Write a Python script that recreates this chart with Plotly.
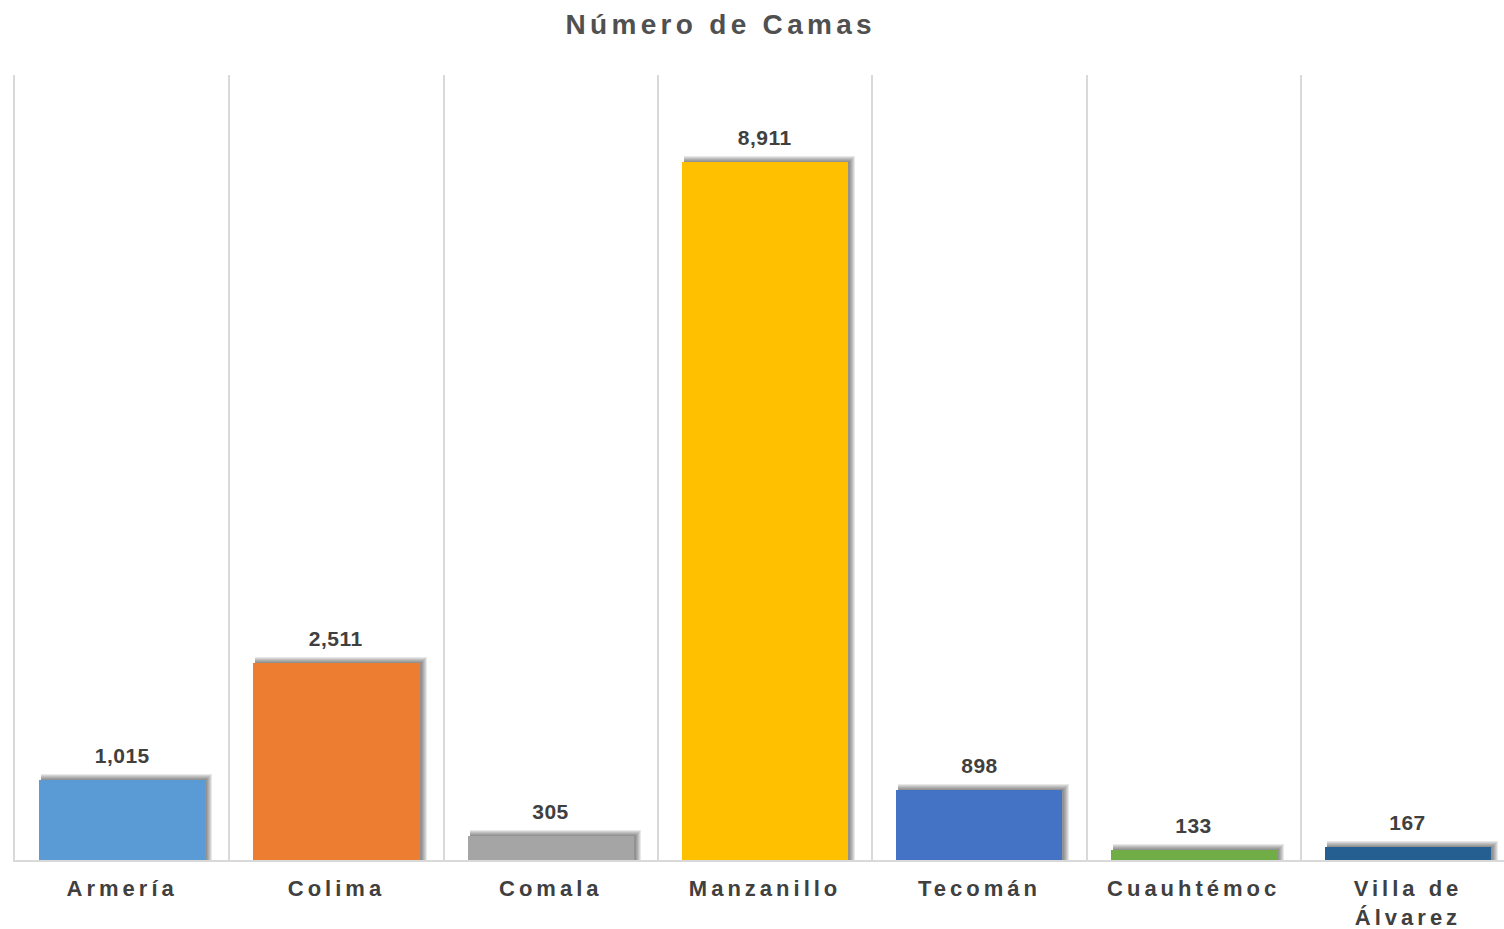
import plotly.graph_objects as go

categories = ["Armería", "Colima", "Comala", "Manzanillo", "Tecomán", "Cuauhtémoc", "Villa de<br>Álvarez"]
values = [1015, 2511, 305, 8911, 898, 133, 167]
colors = ["#5B9BD5", "#ED7D31", "#A5A5A5", "#FFC000", "#4472C4", "#70AD47", "#255E91"]

x = list(range(len(categories)))
w = 0.775
px_x = 1 / 214.3          # one pixel in x units
y_max = 10020
px_y = y_max / 785        # one pixel in y units

fig = go.Figure()

# soft blurred shadow (layers, largest first), shifted up-right
for k in [5, 4, 3, 2, 1, 0]:
    fig.add_trace(go.Bar(
        x=x, y=[v + (1 + k) * px_y for v in values],
        width=w + k * px_x, offset=-w / 2 + 2 * px_x,
        marker=dict(color="rgba(30,30,30,0.10)", line=dict(width=0)),
        hoverinfo="skip", showlegend=False,
    ))

fig.add_trace(go.Bar(
    x=x, y=values, width=w, offset=-w / 2,
    marker=dict(color=colors, line=dict(width=0)),
    showlegend=False,
))

for xi, v in zip(x, values):
    fig.add_annotation(x=xi, y=v, text=f"{v:,}", showarrow=False, yanchor="bottom",
                       yshift=11, font=dict(family="Liberation Sans, Arial", size=21, color="#404040", weight="bold"))

fig.add_trace(go.Scatter(x=[-0.5, 6.5], y=[0, 0], xaxis="x2", mode="lines",
                         line=dict(width=0), hoverinfo="skip", showlegend=False))

fig.update_layout(
    width=1504, height=929,
    margin=dict(l=15, r=0, t=75, b=69),
    plot_bgcolor="white", paper_bgcolor="white",
    barmode="overlay", bargap=0,
    title=dict(text="Número de Camas", x=0.474, xref="paper", xanchor="center",
               y=1 - 24 / 929, yanchor="middle",
               font=dict(family="Liberation Sans, Arial", size=28, color="#505050", weight="bold")),
    xaxis=dict(range=[-0.5, 6.448], tickmode="array", tickvals=x, ticktext=categories,
               showgrid=False, showline=True, linecolor="#D9D9D9", linewidth=2,
               ticks="", ticklabelstandoff=8, zeroline=False,
               tickfont=dict(family="Liberation Sans, Arial", size=22, color="#404040", weight="bold")),
    xaxis2=dict(range=[-0.5, 6.448], overlaying="x", tickmode="array",
                tickvals=[i - 0.5 for i in range(8)], showgrid=True, gridcolor="#D9D9D9",
                gridwidth=2, showticklabels=False, ticks="", zeroline=False, side="bottom"),
    yaxis=dict(range=[0, y_max], showgrid=False, showticklabels=False, zeroline=False, ticks="",
               showline=True, linecolor="#D9D9D9", linewidth=2),
)

post = """
document.body.style.margin='0';
document.documentElement.style.overflow='hidden';
function ls(){
 document.querySelectorAll('.xtick text').forEach(t=>t.style.letterSpacing='4px');
 document.querySelectorAll('.gtitle').forEach(t=>t.style.letterSpacing='4.3px');
 document.querySelectorAll('.annotation-text').forEach(t=>t.style.letterSpacing='0.5px');
}
ls(); setTimeout(ls, 200);
"""
fig.write_html("out.html", post_script=post, config={"displayModeBar": False})
